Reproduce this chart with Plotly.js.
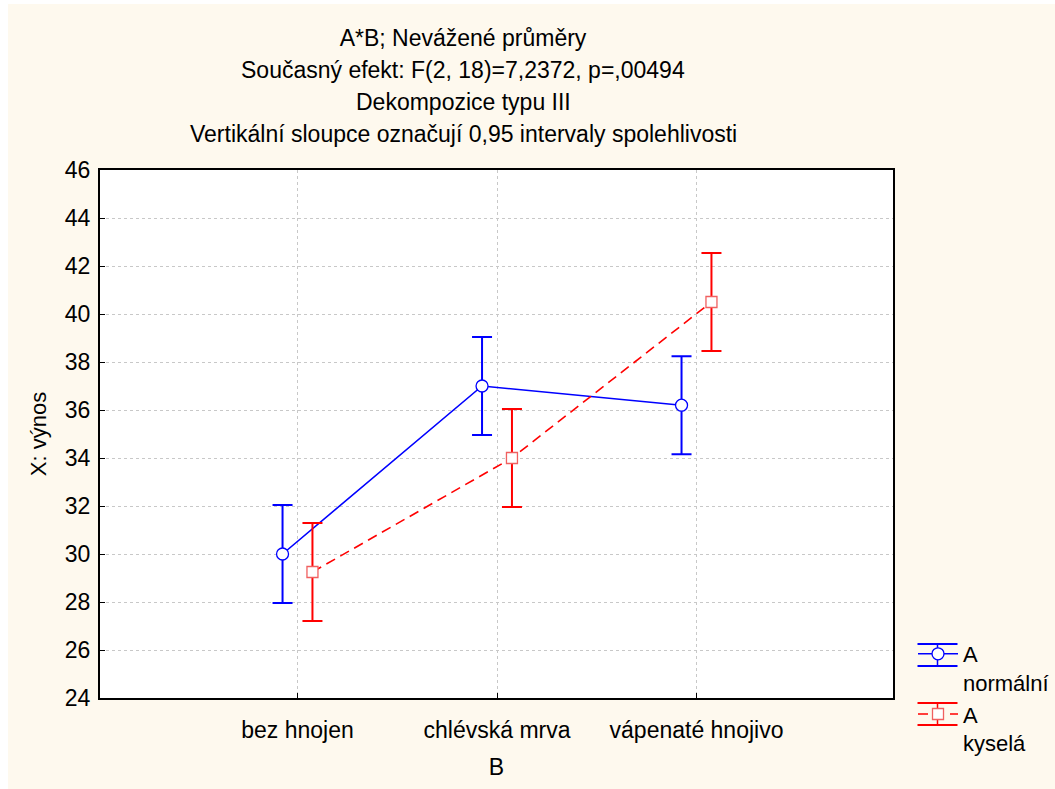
<!DOCTYPE html>
<html>
<head>
<meta charset="utf-8">
<script src="https://cdn.plot.ly/plotly-3.0.1.min.js"></script>
<style>
  html, body { margin: 0; padding: 0; background: #ffffff; width: 1055px; height: 789px; overflow: hidden; }
  #chart { position: absolute; left: 8px; top: 4px; width: 1047px; height: 785px; }
</style>
</head>
<body>
<div id="chart"></div>
<script>
// ---- data ----
const categories = ['bez hnojen', 'chlévská mrva', 'vápenaté hnojivo'];
const normalMeans = [30.0, 37.0, 36.2];
const normalCI = [2.04, 2.04, 2.04];
const kyselaMeans = [29.25, 34.0, 40.5];
const kyselaCI = [2.04, 2.04, 2.04];
const seriesNames = ['A<br>normální', 'A<br>kyselá'];
const yTicks = [24, 26, 28, 30, 32, 34, 36, 38, 40, 42, 44, 46];
const titleLines = [
  'A*B; Nevážené průměry',
  'Současný efekt: F(2, 18)=7,2372, p=,00494',
  'Dekompozice typu III',
  'Vertikální sloupce označují 0,95 intervaly spolehlivosti'
];
const xTitle = 'B';
const yTitle = 'X: výnos';

// ---- styling ----
const FONT = 'Liberation Sans, Arial, Helvetica, sans-serif';
const BLUE = '#0000ff', RED = '#ff0000';
const dodge = 0.075;
const catIdx = categories.map((c, i) => i);

const traceNormal = {
  type: 'scatter', mode: 'lines+markers', name: seriesNames[0],
  x: catIdx.map(i => i - dodge), y: normalMeans,
  line: { color: BLUE, width: 1.6 },
  marker: { symbol: 'circle', size: 12, color: '#ffffff', line: { color: BLUE, width: 1.3 } },
  error_y: { type: 'data', array: normalCI, visible: true, color: BLUE, thickness: 2, width: 10 },
  hoverinfo: 'skip'
};
const traceKysela = {
  type: 'scatter', mode: 'lines+markers', name: seriesNames[1],
  x: catIdx.map(i => i + dodge), y: kyselaMeans,
  line: { color: RED, width: 1.6, dash: '10px,6px' },
  marker: { symbol: 'square', size: 11, color: '#ffffff', line: { color: '#f06060', width: 1.3 } },
  error_y: { type: 'data', array: kyselaCI, visible: true, color: RED, thickness: 2, width: 10 },
  hoverinfo: 'skip'
};

// page-pixel helpers (plot area: x 100..893, y 170..698 on the page; chart div at page 8,4)
const PX0 = 100, PX1 = 893, PY0 = 170, PY1 = 698;
const W = 1047, H = 785, OX = 8, OY = 4;
const px = X => (X - PX0) / (PX1 - PX0);
const py = Y => (PY1 - Y) / (PY1 - PY0);
const cx = X => (X - OX) / W;
const cy = Y => 1 - (Y - OY) / H;

const annotations = titleLines.slice(1).map((t, k) => ({
  text: t, xref: 'paper', yref: 'paper', x: px(463), y: py(70 + 32 * k),
  xanchor: 'center', yanchor: 'middle', showarrow: false,
  font: { family: FONT, size: 23, color: '#000000' }
}));

// legend symbol decoration: error-bar style caps (legend furniture, not data)
const legendKeys = [{ cy: 655, color: BLUE }, { cy: 714, color: RED }];
const LX = 937.5;
const shapes = [];
legendKeys.forEach(k => {
  [k.cy - 11, k.cy + 11].forEach(yy => shapes.push({
    type: 'line', xref: 'paper', yref: 'paper', x0: px(LX - 20), x1: px(LX + 20), y0: py(yy), y1: py(yy),
    line: { color: k.color, width: 2 }
  }));
  shapes.push({
    type: 'line', xref: 'paper', yref: 'paper', x0: px(LX), x1: px(LX), y0: py(k.cy - 11), y1: py(k.cy + 11),
    line: { color: k.color, width: 1.5 }
  });
});

const layout = {
  width: W, height: H,
  paper_bgcolor: '#fef9ee', plot_bgcolor: '#ffffff',
  font: { family: FONT, size: 23, color: '#000000' },
  margin: { l: 92, r: 162, t: 166, b: 91, pad: 0, autoexpand: false },
  title: {
    text: titleLines[0], xref: 'paper', x: px(463), xanchor: 'center',
    yref: 'container', y: cy(38), yanchor: 'middle',
    font: { family: FONT, size: 23, color: '#000000' }
  },
  annotations: annotations,
  shapes: shapes,
  showlegend: true,
  legend: {
    xref: 'container', yref: 'container',
    x: cx(913), xanchor: 'left', y: cy(633), yanchor: 'top',
    bgcolor: 'rgba(0,0,0,0)', borderwidth: 0, valign: 'top',
    font: { family: FONT, size: 22, color: '#000000' },
    tracegroupgap: 6, itemwidth: 40
  },
  xaxis: {
    range: [-0.99, 2.985], tickmode: 'array', tickvals: catIdx, ticktext: categories,
    showgrid: true, gridcolor: '#c8c8c8', griddash: 'dot', gridwidth: 1,
    zeroline: false, showline: true, mirror: true, linecolor: '#000000', linewidth: 2,
    ticks: 'inside', ticklen: 5, tickcolor: '#000000', tickwidth: 1,
    ticklabelstandoff: 10,
    tickfont: { family: FONT, size: 23 },
    title: { text: xTitle, standoff: 17, font: { family: FONT, size: 23 } }
  },
  yaxis: {
    range: [24, 46], tickmode: 'array', tickvals: yTicks,
    showgrid: true, gridcolor: '#c8c8c8', griddash: 'dot', gridwidth: 1,
    zeroline: false, showline: true, mirror: true, linecolor: '#000000', linewidth: 2,
    ticks: 'inside', ticklen: 5, tickcolor: '#000000', tickwidth: 1,
    ticklabelstandoff: 3,
    tickfont: { family: FONT, size: 23 },
    title: { text: yTitle, standoff: 12, font: { family: FONT, size: 22 } }
  }
};

Plotly.newPlot('chart', [traceNormal, traceKysela], layout, { displayModeBar: false, staticPlot: true });
</script>
</body>
</html>
